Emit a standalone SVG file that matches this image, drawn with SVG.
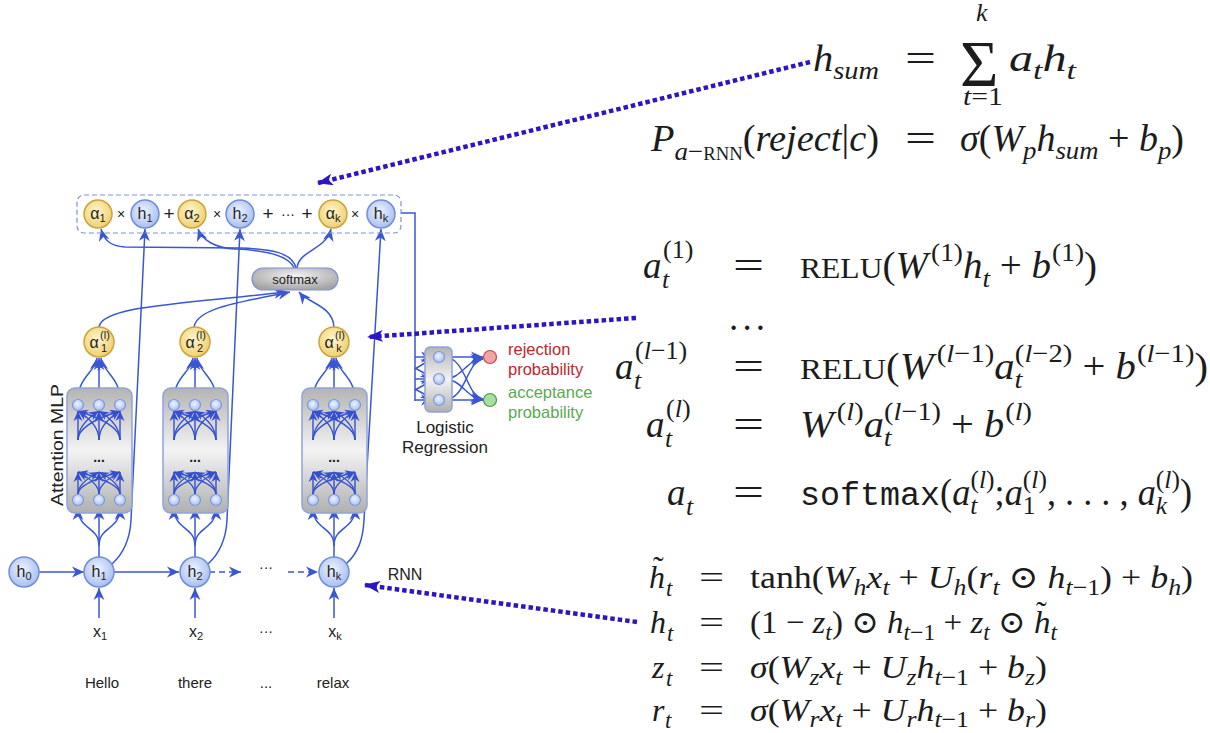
<svg xmlns="http://www.w3.org/2000/svg" width="1210" height="733" viewBox="0 0 1210 733">
<style>
.ln{fill:none;stroke:#3a56d4;stroke-width:1.5}
.fan{fill:none;stroke:#3450d0;stroke-width:1.4}
.dot{fill:none;stroke:#2b16c6;stroke-width:4.5;stroke-dasharray:4.5 3}
.bn{fill:url(#gb);stroke:#6f8edb;stroke-width:1.5}
.yn{fill:url(#gy);stroke:#c9a440;stroke-width:1.5}
.sn{fill:url(#gb);stroke:#7b97dc;stroke-width:1.2}
.blk{fill:url(#gg);stroke:#8ea4dc;stroke-width:1.5}
.nl{font-family:"Liberation Sans",Arial,sans-serif;font-size:16px;fill:#222;text-anchor:middle}
.ns{font-size:11px}
.op{font-family:"Liberation Sans",Arial,sans-serif;fill:#222;text-anchor:middle}
.lb{font-family:"Liberation Sans",Arial,sans-serif;fill:#222;text-anchor:middle}
.m{font-family:"Liberation Serif","DejaVu Serif",serif;font-size:37px;fill:#1c1c1c}
.g{font-family:"Liberation Serif","DejaVu Serif",serif;font-size:32px;fill:#1c1c1c}
.i{font-style:italic}
.s{font-size:26px}
.gs{font-size:23px}
.sc{font-size:30px}
.tt{font-family:"Liberation Mono","DejaVu Sans Mono",monospace;font-size:34px}
</style>
<defs>
<radialGradient id="gb" cx="45%" cy="40%" r="60%"><stop offset="0" stop-color="#eef3ff"/><stop offset="1" stop-color="#a9bff0"/></radialGradient>
<radialGradient id="gy" cx="45%" cy="40%" r="60%"><stop offset="0" stop-color="#fff6cf"/><stop offset="1" stop-color="#f0cf6e"/></radialGradient>
<linearGradient id="gg" x1="0" y1="0" x2="0" y2="1"><stop offset="0" stop-color="#b4b4b4"/><stop offset="0.5" stop-color="#f3f3f3"/><stop offset="1" stop-color="#b0b0b0"/></linearGradient>
<radialGradient id="gs" cx="50%" cy="35%" r="65%"><stop offset="0" stop-color="#f2f2f2"/><stop offset="1" stop-color="#a4a4a4"/></radialGradient>
<marker id="ar" viewBox="0 0 10 10" refX="10" refY="5" markerWidth="12" markerHeight="12" markerUnits="userSpaceOnUse" orient="auto"><path d="M0,0.5 L10,5 L0,9.5 L3,5 z" fill="#3a56d4"/></marker>
<marker id="as" viewBox="0 0 10 10" refX="10" refY="5" markerWidth="10" markerHeight="10" markerUnits="userSpaceOnUse" orient="auto"><path d="M0,0.5 L10,5 L0,9.5 L3,5 z" fill="#3450d0"/></marker>
<marker id="ad" viewBox="0 0 16 12" refX="15" refY="6" markerWidth="16" markerHeight="12" markerUnits="userSpaceOnUse" orient="auto"><path d="M0,0 L16,6 L0,12 L4,6 z" fill="#2b16c6"/></marker>
<g id="blk">
<rect class="blk" x="67" y="388" width="65" height="125" rx="8"/>
<g marker-end="url(#as)" class="fan">
<path d="M78,440 L78,411"/><path d="M78,440 Q78,424 99,411"/><path d="M78,440 Q78,424 120,411"/>
<path d="M99,440 Q99,424 78,411"/><path d="M99,440 L99,411"/><path d="M99,440 Q99,424 120,411"/>
<path d="M120,440 Q120,424 78,411"/><path d="M120,440 Q120,424 99,411"/><path d="M120,440 L120,411"/>
<path d="M78,494 L78,472"/><path d="M78,494 Q78,483 99,472"/><path d="M78,494 Q78,483 120,472"/>
<path d="M99,494 Q99,483 78,472"/><path d="M99,494 L99,472"/><path d="M99,494 Q99,483 120,472"/>
<path d="M120,494 Q120,483 78,472"/><path d="M120,494 Q120,483 99,472"/><path d="M120,494 L120,472"/>
</g>
<circle class="sn" cx="78" cy="405" r="5.5"/><circle class="sn" cx="99" cy="405" r="5.5"/><circle class="sn" cx="120" cy="405" r="5.5"/>
<circle class="sn" cx="78" cy="500" r="5.5"/><circle class="sn" cx="99" cy="500" r="5.5"/><circle class="sn" cx="120" cy="500" r="5.5"/>
<text class="op" x="99" y="462" style="font-size:14px;font-weight:bold">...</text>
</g>
<g id="io" class="ln" marker-end="url(#ar)">
<path d="M78,399 C78,378 95,372 97,358"/><path d="M99,399 L99,358"/><path d="M120,399 C120,378 103,372 101,358"/>
<path d="M99,557 L99,508"/><path d="M99,546 C99,526 78,530 78,508"/><path d="M99,546 C99,526 120,530 120,508"/>
</g>
</defs>

<g id="connectors">
<use href="#io"/><use href="#io" x="96"/><use href="#io" x="235"/>
<g class="ln" marker-end="url(#ar)">
<path d="M296,268 C292,252 270,249 240,248 L125,247 C110,246 104,240 101,229"/>
<path d="M294,268 C288,254 262,250 235,249 C215,248 202,240 198,229"/>
<path d="M297,268 C299,250 326,250 331,229"/>
<path d="M112,564 C124,553 130,540 131,520 L145,229"/>
<path d="M208,564 C220,553 226,540 227,520 L240,229"/>
<path d="M346,564 C358,553 363,540 364,520 L381,229"/>
<path d="M99,327 C102,306 180,304 286,292"/>
<path d="M194,327 C197,308 240,302 290,292"/>
<path d="M334,327 C333,306 308,303 299,292"/>
<path d="M39,572 L84,572"/>
<path d="M114,572 L179,572"/>
<path d="M209,572 L241,572" stroke-dasharray="6 4"/>
<path d="M288,572 L318,572" stroke-dasharray="6 4"/>
<path d="M99,618 L99,588"/>
<path d="M195,618 L195,588"/>
<path d="M334,618 L334,588"/>
<path d="M415,357 L433,357"/><path d="M415,379 L433,379"/><path d="M415,400 L433,400"/>
<path d="M415,369 L433,358"/><path d="M415,368 L433,378"/><path d="M415,390 L433,380"/><path d="M415,389 L433,399"/>
<path d="M444,357 L483,357"/>
<path d="M444,379 C462,379 466,360 483,358"/>
<path d="M444,400 C466,400 466,362 483,359"/>
<path d="M444,357 C466,357 466,396 483,399"/>
<path d="M444,379 C462,379 466,398 483,400"/>
<path d="M444,400 L483,400"/>
</g>
<path class="ln" d="M401,213 L415,213 L415,401"/>
<g class="dot" marker-end="url(#ad)">
<path d="M810,62 L318,183"/>
<path d="M636,318 L368,337"/>
<path d="M637,622 L365,585"/>
</g>
</g>

<g id="sumrow">
<rect x="77" y="195" width="324" height="38" rx="7" fill="none" stroke="#7c93d6" stroke-width="1.2" stroke-dasharray="5 3"/>
<text class="op" x="121" y="219" style="font-size:14px">×</text>
<text class="op" x="169" y="220" style="font-size:19px">+</text>
<text class="op" x="217" y="219" style="font-size:14px">×</text>
<text class="op" x="268" y="220" style="font-size:19px">+</text>
<text class="op" x="288" y="219" style="font-size:14px">···</text>
<text class="op" x="307" y="220" style="font-size:19px">+</text>
<text class="op" x="355" y="219" style="font-size:14px">×</text>
</g>
<g id="a1"><circle class="yn" cx="98" cy="214" r="14"/><text class="nl" x="98" y="219">α<tspan class="ns" dy="3">1</tspan></text></g>
<g id="h1top"><circle class="bn" cx="145" cy="214" r="14"/><text class="nl" x="145" y="219">h<tspan class="ns" dy="3">1</tspan></text></g>
<g id="a2"><circle class="yn" cx="192" cy="214" r="14"/><text class="nl" x="192" y="219">α<tspan class="ns" dy="3">2</tspan></text></g>
<g id="h2top"><circle class="bn" cx="240" cy="214" r="14"/><text class="nl" x="240" y="219">h<tspan class="ns" dy="3">2</tspan></text></g>
<g id="ak"><circle class="yn" cx="333" cy="214" r="14"/><text class="nl" x="333" y="219">α<tspan class="ns" dy="3">k</tspan></text></g>
<g id="hktop"><circle class="bn" cx="381" cy="214" r="14"/><text class="nl" x="381" y="219">h<tspan class="ns" dy="3">k</tspan></text></g>

<g id="softmax"><rect x="252" y="268" width="86" height="22" rx="11" fill="url(#gs)" stroke="#7c93d6" stroke-width="1.2"/><text class="op" x="295" y="284" style="font-size:13px">softmax</text></g>

<g id="al1"><circle class="yn" cx="99" cy="342" r="15"/><text class="nl" x="94" y="348">α</text><text class="nl ns" x="105" y="339">(l)</text><text class="nl ns" x="104" y="352">1</text></g>
<g id="al2"><circle class="yn" cx="195" cy="342" r="15"/><text class="nl" x="190" y="348">α</text><text class="nl ns" x="201" y="339">(l)</text><text class="nl ns" x="200" y="352">2</text></g>
<g id="alk"><circle class="yn" cx="334" cy="342" r="15"/><text class="nl" x="329" y="348">α</text><text class="nl ns" x="340" y="339">(l)</text><text class="nl ns" x="339" y="352">k</text></g>

<g id="mlp1"><use href="#blk"/></g>
<g id="mlp2"><use href="#blk" x="96"/></g>
<g id="mlpk"><use href="#blk" x="235"/></g>
<text class="lb" style="font-size:17px" transform="translate(63,445) rotate(-90)" textLength="122" lengthAdjust="spacingAndGlyphs">Attention MLP</text>

<g id="lr">
<rect class="blk" x="425" y="347" width="27" height="65" rx="5"/>
<circle class="sn" cx="439" cy="357" r="5.5"/><circle class="sn" cx="439" cy="379" r="5.5"/><circle class="sn" cx="439" cy="400" r="5.5"/>
<text class="lb" x="445" y="433" style="font-size:17px">Logistic</text>
<text class="lb" x="445" y="453" style="font-size:17px">Regression</text>
</g>
<g id="rej"><circle cx="490" cy="357" r="6.5" fill="#f3a3a3" stroke="#c04848" stroke-width="1.2"/>
<text x="508" y="355" font-family="Liberation Sans,Arial,sans-serif" font-size="16.5" fill="#c0272d">rejection</text>
<text x="508" y="375" font-family="Liberation Sans,Arial,sans-serif" font-size="16.5" fill="#c0272d">probability</text></g>
<g id="acc"><circle cx="490" cy="400" r="6.5" fill="#a9dea3" stroke="#4b984b" stroke-width="1.2"/>
<text x="508" y="398" font-family="Liberation Sans,Arial,sans-serif" font-size="16.5" fill="#5aaa52">acceptance</text>
<text x="508" y="418" font-family="Liberation Sans,Arial,sans-serif" font-size="16.5" fill="#5aaa52">probability</text></g>

<g id="h0"><circle class="bn" cx="24" cy="572" r="15"/><text class="nl" x="24" y="577">h<tspan class="ns" dy="3">0</tspan></text></g>
<g id="h1"><circle class="bn" cx="99" cy="572" r="15"/><text class="nl" x="99" y="577">h<tspan class="ns" dy="3">1</tspan></text></g>
<g id="h2"><circle class="bn" cx="195" cy="572" r="15"/><text class="nl" x="195" y="577">h<tspan class="ns" dy="3">2</tspan></text></g>
<g id="hk"><circle class="bn" cx="334" cy="572" r="15"/><text class="nl" x="334" y="577">h<tspan class="ns" dy="3">k</tspan></text></g>
<text class="op" x="266" y="572" style="font-size:14px">···</text>
<text class="lb" x="405" y="580" style="font-size:16px">RNN</text>
<g id="inputs">
<text class="nl" x="100" y="637">x<tspan class="ns" dy="3">1</tspan></text>
<text class="nl" x="196" y="637">x<tspan class="ns" dy="3">2</tspan></text>
<text class="op" x="266" y="636" style="font-size:14px">···</text>
<text class="nl" x="335" y="637">x<tspan class="ns" dy="3">k</tspan></text>
<text class="lb" x="102" y="688" style="font-size:15px">Hello</text>
<text class="lb" x="195" y="688" style="font-size:15px">there</text>
<text class="lb" x="266" y="688" style="font-size:15px">...</text>
<text class="lb" x="333" y="688" style="font-size:15px">relax</text>
</g>

<g id="eq-top">
<text class="m i" x="813" y="71" textLength="66" lengthAdjust="spacingAndGlyphs">h<tspan class="s" dy="8">sum</tspan></text>
<text class="m" x="905" y="71" textLength="31" lengthAdjust="spacingAndGlyphs">=</text>
<text class="m" x="960" y="86" style="font-size:66px">Σ</text>
<text class="m i s" x="976" y="21">k</text>
<text class="m s" x="963" y="105" textLength="40" lengthAdjust="spacingAndGlyphs"><tspan class="i">t</tspan>=1</text>
<text class="m i" x="1009" y="71" textLength="67" lengthAdjust="spacingAndGlyphs">a<tspan class="s" dy="8">t</tspan><tspan dy="-8">h</tspan><tspan class="s" dy="8">t</tspan></text>
<text class="m" x="651" y="151" textLength="228" lengthAdjust="spacingAndGlyphs"><tspan class="i">P</tspan><tspan class="s i" dy="9">a</tspan><tspan class="s">−</tspan><tspan style="font-size:18px">RNN</tspan><tspan dy="-9">(</tspan><tspan class="i">reject</tspan>|<tspan class="i">c</tspan>)</text>
<text class="m" x="905" y="151" textLength="31" lengthAdjust="spacingAndGlyphs">=</text>
<text class="m" x="960" y="151" textLength="224" lengthAdjust="spacingAndGlyphs"><tspan class="i">σ</tspan>(<tspan class="i">W</tspan><tspan class="s i" dy="8">p</tspan><tspan class="i" dy="-8">h</tspan><tspan class="s i" dy="8">sum</tspan><tspan dy="-8"> + </tspan><tspan class="i">b</tspan><tspan class="s i" dy="8">p</tspan><tspan dy="-8">)</tspan></text>
</g>

<g id="eq-mlp">
<text class="m i" x="643" y="278">a</text><text class="m i s" x="662" y="288">t</text><text class="m s" x="663" y="258">(1)</text>
<text class="m" x="733" y="278" textLength="31" lengthAdjust="spacingAndGlyphs">=</text>
<text class="m" x="800" y="278" textLength="297" lengthAdjust="spacingAndGlyphs"><tspan class="sc">RELU</tspan>(<tspan class="i">W</tspan><tspan class="s" dx="3" dy="-17">(1)</tspan><tspan class="i" dy="17">h</tspan><tspan class="s i" dy="9">t</tspan><tspan dy="-9"> + </tspan><tspan class="i">b</tspan><tspan class="s" dx="1" dy="-17">(1)</tspan><tspan dy="17">)</tspan></text>
<text class="m" x="729" y="330" textLength="36" lengthAdjust="spacing">. . .</text>
<text class="m i" x="615" y="379">a</text><text class="m i s" x="634" y="389">t</text><text class="m s" x="635" y="359">(<tspan class="i">l</tspan>−1)</text>
<text class="m" x="733" y="379" textLength="31" lengthAdjust="spacingAndGlyphs">=</text>
<text class="m" x="800" y="379" textLength="408" lengthAdjust="spacingAndGlyphs"><tspan class="sc">RELU</tspan>(<tspan class="i">W</tspan><tspan class="s" dx="3" dy="-17">(<tspan class="i">l</tspan>−1)</tspan><tspan class="i" dy="17">a</tspan><tspan class="s i" dy="9">t</tspan><tspan class="s" dx="-7" dy="-26">(<tspan class="i">l</tspan>−2)</tspan><tspan dy="17"> + </tspan><tspan class="i">b</tspan><tspan class="s" dx="1" dy="-17">(<tspan class="i">l</tspan>−1)</tspan><tspan dy="17">)</tspan></text>
<text class="m i" x="646" y="437">a</text><text class="m i s" x="665" y="447">t</text><text class="m s" x="666" y="417">(<tspan class="i">l</tspan>)</text>
<text class="m" x="733" y="437" textLength="31" lengthAdjust="spacingAndGlyphs">=</text>
<text class="m" x="800" y="437" textLength="232" lengthAdjust="spacingAndGlyphs"><tspan class="i">W</tspan><tspan class="s" dx="3" dy="-17">(<tspan class="i">l</tspan>)</tspan><tspan class="i" dy="17">a</tspan><tspan class="s i" dy="9">t</tspan><tspan class="s" dx="-7" dy="-26">(<tspan class="i">l</tspan>−1)</tspan><tspan dy="17"> + </tspan><tspan class="i">b</tspan><tspan class="s" dx="1" dy="-17">(<tspan class="i">l</tspan>)</tspan></text>
<text class="m i" x="667" y="505">a</text><text class="m i s" x="686" y="515">t</text>
<text class="m" x="733" y="505" textLength="31" lengthAdjust="spacingAndGlyphs">=</text>
<text class="m" x="800" y="505" textLength="392" lengthAdjust="spacingAndGlyphs"><tspan class="tt">softmax</tspan>(<tspan class="i">a</tspan><tspan class="s i" dy="9">t</tspan><tspan class="s" dx="-7" dy="-26">(<tspan class="i">l</tspan>)</tspan><tspan dy="17">;</tspan><tspan class="i">a</tspan><tspan class="s" dy="9">1</tspan><tspan class="s" dx="-13" dy="-26">(<tspan class="i">l</tspan>)</tspan><tspan dy="17">, . . . , </tspan><tspan class="i">a</tspan><tspan class="s i" dy="9">k</tspan><tspan class="s" dx="-11.5" dy="-26">(<tspan class="i">l</tspan>)</tspan><tspan dy="17">)</tspan></text>
</g>

<g id="eq-gru">
<text class="g i" x="649" y="588">h</text><text class="g" x="653" y="578">˜</text><text class="g i gs" x="666" y="596">t</text>
<text class="g" x="699" y="588" textLength="25" lengthAdjust="spacingAndGlyphs">=</text>
<text class="g" x="750" y="588" textLength="443" lengthAdjust="spacingAndGlyphs">tanh(<tspan class="i">W</tspan><tspan class="gs i" dy="7">h</tspan><tspan class="i" dy="-7">x</tspan><tspan class="gs i" dy="7">t</tspan><tspan dy="-7"> + </tspan><tspan class="i">U</tspan><tspan class="gs i" dy="7">h</tspan><tspan dy="-7">(</tspan><tspan class="i">r</tspan><tspan class="gs i" dy="7">t</tspan><tspan dy="-7"> ⊙ </tspan><tspan class="i">h</tspan><tspan class="gs" dy="7"><tspan class="i">t</tspan>−1</tspan><tspan dy="-7">) + </tspan><tspan class="i">b</tspan><tspan class="gs i" dy="7">h</tspan><tspan dy="-7">)</tspan></text>
<text class="g i" x="650" y="633">h</text><text class="g i gs" x="667" y="641">t</text>
<text class="g" x="699" y="633" textLength="25" lengthAdjust="spacingAndGlyphs">=</text>
<text class="g" x="750" y="633" textLength="307" lengthAdjust="spacingAndGlyphs">(1 − <tspan class="i">z</tspan><tspan class="gs i" dy="7">t</tspan><tspan dy="-7">) ⊙ </tspan><tspan class="i">h</tspan><tspan class="gs" dy="7"><tspan class="i">t</tspan>−1</tspan><tspan dy="-7"> + </tspan><tspan class="i">z</tspan><tspan class="gs i" dy="7">t</tspan><tspan dy="-7"> ⊙ </tspan><tspan class="i">h</tspan><tspan class="gs i" dy="7">t</tspan></text>
<text class="g" x="1036" y="623">˜</text>
<text class="g i" x="652" y="678">z</text><text class="g i gs" x="666" y="686">t</text>
<text class="g" x="699" y="678" textLength="25" lengthAdjust="spacingAndGlyphs">=</text>
<text class="g" x="750" y="678" textLength="297" lengthAdjust="spacingAndGlyphs"><tspan class="i">σ</tspan>(<tspan class="i">W</tspan><tspan class="gs i" dy="7">z</tspan><tspan class="i" dy="-7">x</tspan><tspan class="gs i" dy="7">t</tspan><tspan dy="-7"> + </tspan><tspan class="i">U</tspan><tspan class="gs i" dy="7">z</tspan><tspan class="i" dy="-7">h</tspan><tspan class="gs" dy="7"><tspan class="i">t</tspan>−1</tspan><tspan dy="-7"> + </tspan><tspan class="i">b</tspan><tspan class="gs i" dy="7">z</tspan><tspan dy="-7">)</tspan></text>
<text class="g i" x="652" y="721">r</text><text class="g i gs" x="665" y="728">t</text>
<text class="g" x="699" y="721" textLength="25" lengthAdjust="spacingAndGlyphs">=</text>
<text class="g" x="750" y="721" textLength="297" lengthAdjust="spacingAndGlyphs"><tspan class="i">σ</tspan>(<tspan class="i">W</tspan><tspan class="gs i" dy="6">r</tspan><tspan class="i" dy="-6">x</tspan><tspan class="gs i" dy="6">t</tspan><tspan dy="-6"> + </tspan><tspan class="i">U</tspan><tspan class="gs i" dy="6">r</tspan><tspan class="i" dy="-6">h</tspan><tspan class="gs" dy="6"><tspan class="i">t</tspan>−1</tspan><tspan dy="-6"> + </tspan><tspan class="i">b</tspan><tspan class="gs i" dy="6">r</tspan><tspan dy="-6">)</tspan></text>
</g>
</svg>
